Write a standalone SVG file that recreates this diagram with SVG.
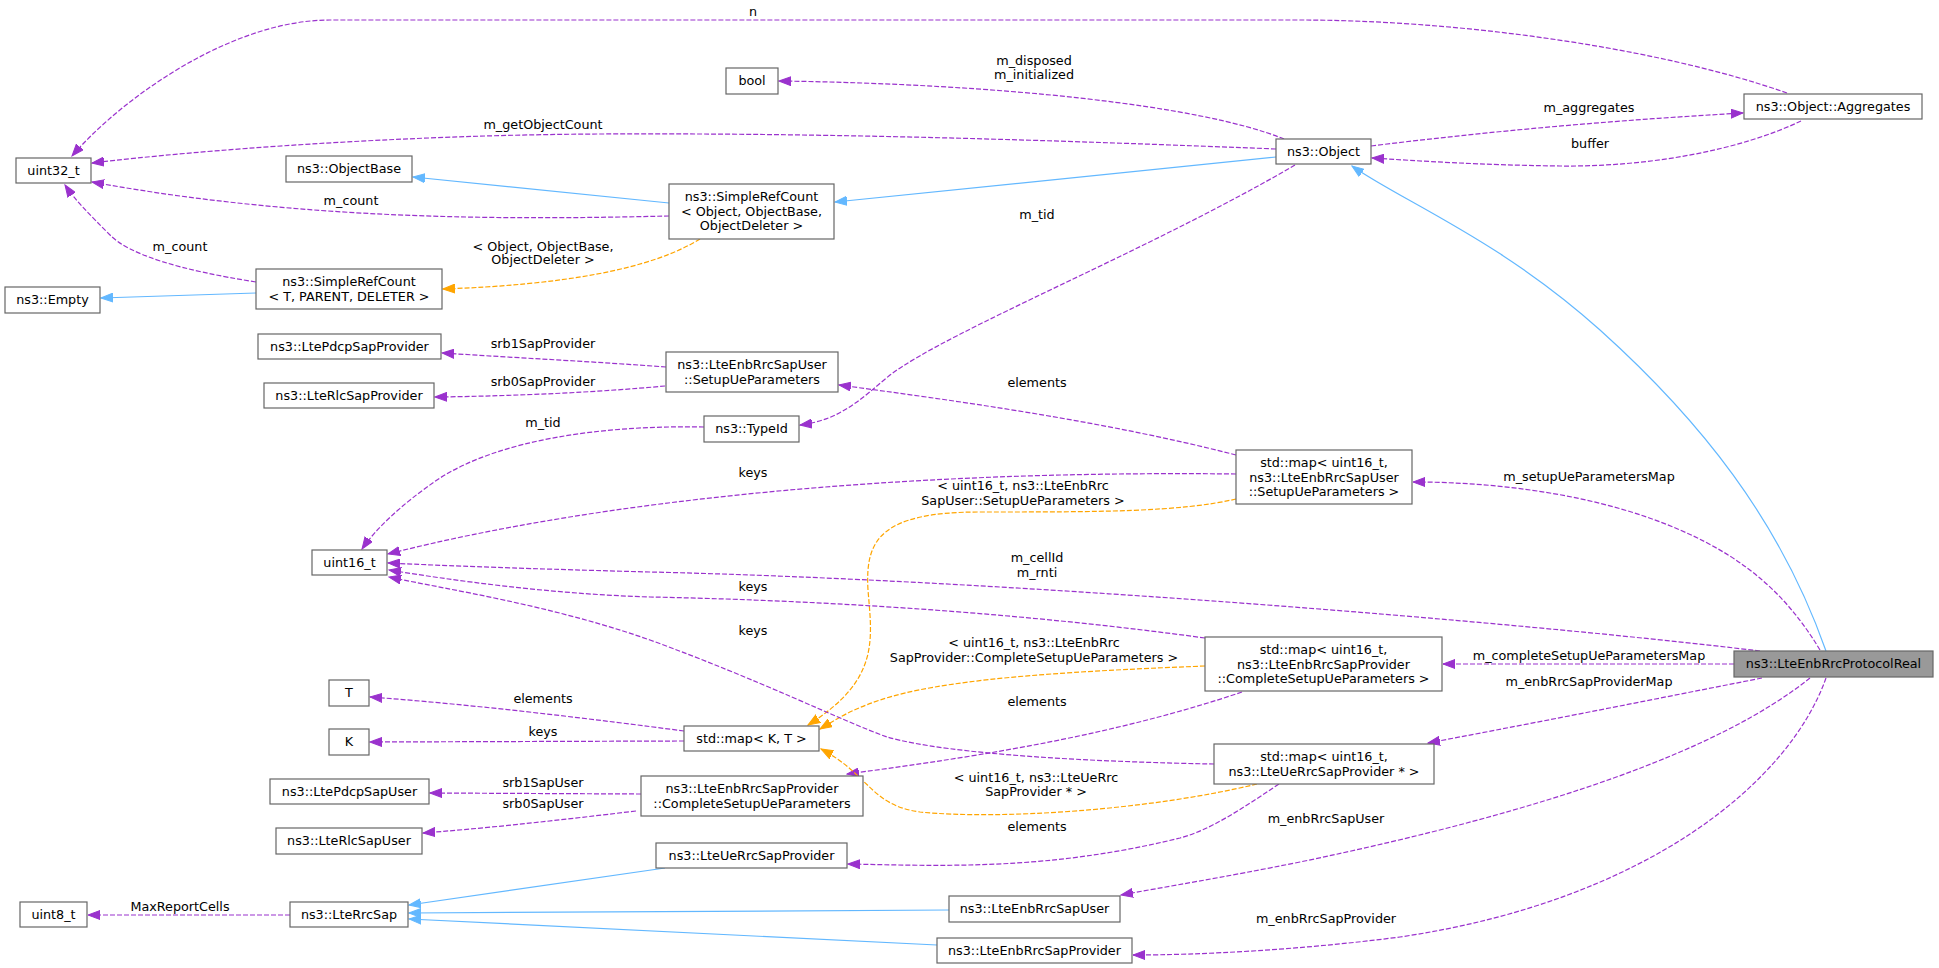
<svg xmlns="http://www.w3.org/2000/svg" width="1939" height="968" viewBox="0 0 1939 968">
<style>
text{font-family:"DejaVu Sans","Liberation Sans",sans-serif;font-size:12.75px;fill:#000;text-anchor:middle}
.n rect{fill:#fff;stroke:#666;stroke-width:1.2}
.p{fill:none;stroke:#9a32cd;stroke-width:1.2;stroke-dasharray:5,2;marker-end:url(#ap)}
.o{fill:none;stroke:#ffa500;stroke-width:1.2;stroke-dasharray:5,2;marker-end:url(#ao)}
.b{fill:none;stroke:#63b8ff;stroke-width:1.2;marker-end:url(#ab)}
</style>
<defs>
<marker id="ap" markerWidth="13" markerHeight="10" refX="12" refY="5" orient="auto" markerUnits="userSpaceOnUse"><path d="M0,0.5L12,5L0,9.5z" fill="#9a32cd" stroke="#9a32cd"/></marker>
<marker id="ao" markerWidth="13" markerHeight="10" refX="12" refY="5" orient="auto" markerUnits="userSpaceOnUse"><path d="M0,0.5L12,5L0,9.5z" fill="#ffa500" stroke="#ffa500"/></marker>
<marker id="ab" markerWidth="13" markerHeight="10" refX="12" refY="5" orient="auto" markerUnits="userSpaceOnUse"><path d="M0,0.5L12,5L0,9.5z" fill="#63b8ff" stroke="#63b8ff"/></marker>
</defs>
<rect width="1939" height="968" fill="#fff"/>
<g id="edges">
<path class="p" d="M1787,93 C1650,45 1450,20 1300,20 L330,20 C230,20 120,100 72,156"/>
<path class="p" d="M1284,139 C1200,105 1000,84 779,81"/>
<path class="p" d="M1276,149 C1000,138 800,133 600,134 C400,135 200,150 92,163"/>
<path class="p" d="M669,216 C500,220 300,220 92,182"/>
<path class="p" d="M256,282 C180,270 130,255 110,235 C90,215 75,200 65,185"/>
<path class="b" d="M669,203 L413,177"/>
<path class="b" d="M1276,157 L835,202"/>
<path class="b" d="M1826,651 C1780,520 1700,420 1600,330 C1500,240 1400,200 1352,166"/>
<path class="b" d="M256,293 L101,298"/>
<path class="o" d="M700,239 C650,270 560,285 443,289"/>
<path class="p" d="M1371,146 C1500,130 1620,120 1743,113"/>
<path class="p" d="M1801,121 C1740,150 1650,167 1560,166 C1480,165 1420,161 1372,158"/>
<path class="p" d="M1295,165 C1150,250 950,330 890,375 C860,400 840,420 800,425"/>
<path class="p" d="M1236,455 C1100,420 950,400 839,385"/>
<path class="p" d="M666,367 C600,362 520,358 442,353"/>
<path class="p" d="M665,386 C600,392 520,396 435,397"/>
<path class="p" d="M704,427 C600,425 500,440 440,478 C400,505 375,530 362,549"/>
<path class="p" d="M1236,474 C900,470 600,500 388,554"/>
<path class="o" d="M1236,499 C1180,512 1100,512 980,512 C880,512 865,540 868,590 C872,640 880,680 808,725"/>
<path class="p" d="M1760,651 C1500,620 1000,580 650,572 C500,568 430,565 388,563"/>
<path class="p" d="M1205,638 C1000,610 800,600 650,597 C550,594 450,580 389,570"/>
<path class="o" d="M1205,666 C1050,672 940,680 880,700 C850,710 835,720 820,729"/>
<path class="p" d="M1242,692 C1100,740 950,760 847,774"/>
<path class="p" d="M1214,764 C1100,762 950,755 887,737 C840,720 760,680 650,640 C550,605 450,590 389,577"/>
<path class="o" d="M1257,784 C1150,810 1000,820 920,812 C870,805 870,775 821,749"/>
<path class="p" d="M1279,784 C1240,810 1210,830 1180,838 C1050,870 950,866 848,864"/>
<path class="p" d="M684,731 C600,720 480,705 370,697"/>
<path class="p" d="M684,741 L370,742"/>
<path class="p" d="M641,794 L430,793"/>
<path class="p" d="M636,811 C560,820 500,827 423,833"/>
<path class="p" d="M290,915 L88,915"/>
<path class="b" d="M665,868 L409,905"/>
<path class="b" d="M949,910 L409,913"/>
<path class="b" d="M937,945 L409,919"/>
<path class="p" d="M1820,650 C1790,600 1750,560 1680,530 C1600,495 1500,482 1413,482"/>
<path class="p" d="M1734,664 L1443,664"/>
<path class="p" d="M1762,678 C1650,700 1550,720 1428,743"/>
<path class="p" d="M1810,678 C1720,750 1550,810 1300,862 C1220,878 1170,886 1121,895"/>
<path class="p" d="M1826,678 C1790,780 1650,900 1400,937 C1300,950 1200,955 1133,955"/>
<text x="753" y="16">n</text>
<text x="1034" y="65">m_disposed</text>
<text x="1034" y="79">m_initialized</text>
<text x="543" y="129">m_getObjectCount</text>
<text x="351" y="205">m_count</text>
<text x="180" y="251">m_count</text>
<text x="543" y="251">&lt; Object, ObjectBase,</text>
<text x="543" y="264">ObjectDeleter &gt;</text>
<text x="1589" y="112">m_aggregates</text>
<text x="1590" y="148">buffer</text>
<text x="1037" y="219">m_tid</text>
<text x="543" y="348">srb1SapProvider</text>
<text x="543" y="386">srb0SapProvider</text>
<text x="1037" y="387">elements</text>
<text x="543" y="427">m_tid</text>
<text x="753" y="477">keys</text>
<text x="1589" y="481">m_setupUeParametersMap</text>
<text x="1023" y="490">&lt; uint16_t, ns3::LteEnbRrc</text>
<text x="1023" y="505">SapUser::SetupUeParameters &gt;</text>
<text x="1037" y="562">m_cellId</text>
<text x="1037" y="577">m_rnti</text>
<text x="753" y="591">keys</text>
<text x="753" y="635">keys</text>
<text x="1034" y="647">&lt; uint16_t, ns3::LteEnbRrc</text>
<text x="1034" y="662">SapProvider::CompleteSetupUeParameters &gt;</text>
<text x="1589" y="660">m_completeSetupUeParametersMap</text>
<text x="1589" y="686">m_enbRrcSapProviderMap</text>
<text x="543" y="703">elements</text>
<text x="1037" y="706">elements</text>
<text x="543" y="736">keys</text>
<text x="1036" y="782">&lt; uint16_t, ns3::LteUeRrc</text>
<text x="1036" y="796">SapProvider * &gt;</text>
<text x="543" y="787">srb1SapUser</text>
<text x="543" y="808">srb0SapUser</text>
<text x="1326" y="823">m_enbRrcSapUser</text>
<text x="1037" y="831">elements</text>
<text x="180" y="911">MaxReportCells</text>
<text x="1326" y="923">m_enbRrcSapProvider</text>
</g>
<g id="uint32_t" class="n"><rect x="16" y="158" width="75" height="25"/><text x="53.5" y="175">uint32_t</text></g>
<g id="bool" class="n"><rect x="726" y="68" width="52" height="26"/><text x="752" y="85">bool</text></g>
<g id="ObjectBase" class="n"><rect x="286" y="156" width="126" height="26"/><text x="349" y="173">ns3::ObjectBase</text></g>
<g id="Object" class="n"><rect x="1276" y="139" width="95" height="25"/><text x="1323.5" y="156">ns3::Object</text></g>
<g id="Aggregates" class="n"><rect x="1744" y="94" width="178" height="25"/><text x="1833" y="111">ns3::Object::Aggregates</text></g>
<g id="SimpleRefCountObj" class="n"><rect x="669" y="184" width="165" height="55"/><text x="751.5" y="201">ns3::SimpleRefCount</text><text x="751.5" y="215.5">&lt; Object, ObjectBase,</text><text x="751.5" y="230">ObjectDeleter &gt;</text></g>
<g id="Empty" class="n"><rect x="5" y="287" width="95" height="26"/><text x="52.5" y="304">ns3::Empty</text></g>
<g id="SimpleRefCountT" class="n"><rect x="256" y="269" width="186" height="40"/><text x="349" y="286">ns3::SimpleRefCount</text><text x="349" y="300.5">&lt; T, PARENT, DELETER &gt;</text></g>
<g id="LtePdcpSapProvider" class="n"><rect x="258" y="334" width="183" height="25"/><text x="349.5" y="351">ns3::LtePdcpSapProvider</text></g>
<g id="LteRlcSapProvider" class="n"><rect x="264" y="383" width="170" height="25"/><text x="349" y="400">ns3::LteRlcSapProvider</text></g>
<g id="SetupUeParameters" class="n"><rect x="666" y="352" width="172" height="40"/><text x="752" y="369">ns3::LteEnbRrcSapUser</text><text x="752" y="383.5">::SetupUeParameters</text></g>
<g id="TypeId" class="n"><rect x="704" y="416" width="95" height="26"/><text x="751.5" y="433">ns3::TypeId</text></g>
<g id="mapSetupUe" class="n"><rect x="1236" y="450" width="176" height="54"/><text x="1324" y="467">std::map&lt; uint16_t,</text><text x="1324" y="481.5">ns3::LteEnbRrcSapUser</text><text x="1324" y="496">::SetupUeParameters &gt;</text></g>
<g id="uint16_t" class="n"><rect x="312" y="550" width="75" height="25"/><text x="349.5" y="567">uint16_t</text></g>
<g id="mapComplete" class="n"><rect x="1205" y="637" width="237" height="54"/><text x="1323.5" y="654">std::map&lt; uint16_t,</text><text x="1323.5" y="668.5">ns3::LteEnbRrcSapProvider</text><text x="1323.5" y="683">::CompleteSetupUeParameters &gt;</text></g>
<g id="ProtocolReal" class="n"><rect x="1734" y="651" width="199" height="26" style="fill:#999"/><text x="1833.5" y="668">ns3::LteEnbRrcProtocolReal</text></g>
<g id="T" class="n"><rect x="329" y="680" width="40" height="26"/><text x="349" y="697">T</text></g>
<g id="mapKT" class="n"><rect x="684" y="726" width="135" height="25"/><text x="751.5" y="743">std::map&lt; K, T &gt;</text></g>
<g id="K" class="n"><rect x="329" y="729" width="40" height="26"/><text x="349" y="746">K</text></g>
<g id="mapUeRrc" class="n"><rect x="1214" y="744" width="220" height="40"/><text x="1324" y="761">std::map&lt; uint16_t,</text><text x="1324" y="775.5">ns3::LteUeRrcSapProvider * &gt;</text></g>
<g id="CompleteSetupUeParameters" class="n"><rect x="641" y="776" width="222" height="40"/><text x="752" y="793">ns3::LteEnbRrcSapProvider</text><text x="752" y="807.5">::CompleteSetupUeParameters</text></g>
<g id="LtePdcpSapUser" class="n"><rect x="270" y="779" width="159" height="25"/><text x="349.5" y="796">ns3::LtePdcpSapUser</text></g>
<g id="LteRlcSapUser" class="n"><rect x="276" y="828" width="146" height="26"/><text x="349" y="845">ns3::LteRlcSapUser</text></g>
<g id="LteUeRrcSapProvider" class="n"><rect x="656" y="843" width="191" height="25"/><text x="751.5" y="860">ns3::LteUeRrcSapProvider</text></g>
<g id="LteEnbRrcSapUser" class="n"><rect x="949" y="896" width="171" height="26"/><text x="1034.5" y="913">ns3::LteEnbRrcSapUser</text></g>
<g id="uint8_t" class="n"><rect x="20" y="902" width="67" height="25"/><text x="53.5" y="919">uint8_t</text></g>
<g id="LteRrcSap" class="n"><rect x="290" y="902" width="118" height="25"/><text x="349" y="919">ns3::LteRrcSap</text></g>
<g id="LteEnbRrcSapProvider" class="n"><rect x="937" y="938" width="195" height="25"/><text x="1034.5" y="955">ns3::LteEnbRrcSapProvider</text></g>
</svg>
